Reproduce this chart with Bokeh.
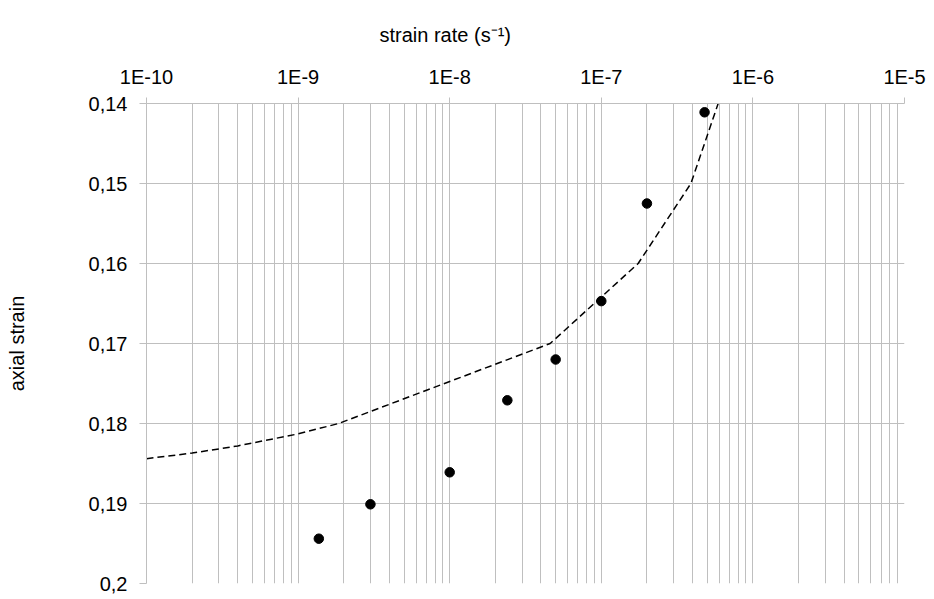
from bokeh.plotting import figure
from bokeh.models import Range1d, FixedTicker, CustomJSTickFormatter
from bokeh.embed import file_html
from bokeh.resources import INLINE

# ---- data ----
x_tick_values = [1e-10, 1e-9, 1e-8, 1e-7, 1e-6, 1e-5]
x_tick_labels = ["1E-10", "1E-9", "1E-8", "1E-7", "1E-6", "1E-5"]
y_tick_values = [0.14, 0.15, 0.16, 0.17, 0.18, 0.19, 0.2]
y_tick_labels = ["0,14", "0,15", "0,16", "0,17", "0,18", "0,19", "0,2"]

curve_rate = [1e-10, 2e-10, 4e-10, 1e-9, 1.85e-9, 4.6e-8, 1.75e-7, 3.9e-7, 5.9e-7]
curve_strain = [0.1844, 0.1837, 0.1828, 0.1813, 0.1800, 0.1700, 0.1600, 0.1500, 0.1400]

point_rate = [1.37e-9, 3.0e-9, 1.0e-8, 2.4e-8, 5.0e-8, 1.0e-7, 2.0e-7, 4.8e-7]
point_strain = [0.1944, 0.1901, 0.1861, 0.1771, 0.1720, 0.1647, 0.1525, 0.1411]

FONT = "Liberation Sans"
GRID = "#bfbfbf"

p = figure(width=926, height=596, x_axis_type="log", x_axis_location="above",
           x_range=Range1d(1e-10, 1e-5), y_range=Range1d(0.2, 0.14),
           output_backend="svg", toolbar_location=None,
           min_border_left=146, min_border_right=22, min_border_top=103, min_border_bottom=13)
p.outline_line_color = None
p.background_fill_color = "white"
p.border_fill_color = "white"

minor = [k * v for v in x_tick_values[:-1] for k in range(2, 10)]
xt = FixedTicker(ticks=x_tick_values, minor_ticks=minor)
yt = FixedTicker(ticks=y_tick_values)
p.xaxis.ticker = xt
p.yaxis.ticker = yt
p.xgrid.ticker = xt
p.ygrid.ticker = yt

p.xaxis.formatter = CustomJSTickFormatter(args=dict(vals=x_tick_values, labs=x_tick_labels), code="""
let best = 0;
for (let i = 0; i < vals.length; i++) {
  if (Math.abs(Math.log10(vals[i]) - Math.log10(tick)) < Math.abs(Math.log10(vals[best]) - Math.log10(tick))) best = i;
}
return labs[best];
""")
p.yaxis.formatter = CustomJSTickFormatter(args=dict(vals=y_tick_values, labs=y_tick_labels), code="""
let best = 0;
for (let i = 0; i < vals.length; i++) {
  if (Math.abs(vals[i] - tick) < Math.abs(vals[best] - tick)) best = i;
}
return labs[best];
""")

for ax in (p.xaxis[0], p.yaxis[0]):
    ax.axis_line_color = GRID
    ax.major_tick_line_color = GRID
    ax.minor_tick_line_color = None
    ax.major_tick_in = 0
    ax.major_label_text_font = FONT
    ax.major_label_text_font_size = "20px"
    ax.major_label_text_color = "black"

p.xaxis.major_tick_out = 6
p.xaxis.major_label_standoff = 10
p.yaxis.major_tick_out = 7
p.yaxis.major_label_standoff = 12

p.yaxis.axis_label = "axial strain"
p.yaxis.axis_label_text_font = FONT
p.yaxis.axis_label_text_font_size = "20px"
p.yaxis.axis_label_text_font_style = "normal"
p.yaxis.axis_label_text_color = "black"
p.yaxis.axis_label_standoff = 58

p.title.text = "strain rate (s\u207b\u00b9)"
p.title.text_font = FONT
p.title.text_font_size = "20px"
p.title.text_font_style = "normal"
p.title.text_color = "black"
p.title.align = "left"
p.title.offset = 233
p.title.standoff = 33

p.xgrid.grid_line_color = GRID
p.xgrid.minor_grid_line_color = GRID
p.ygrid.grid_line_color = GRID

p.line(curve_rate, curve_strain, line_color="black", line_width=1.5, line_dash="7 4")
p.scatter(point_rate, point_strain, size=9.5, color="black")

open("out.html", "w").write(file_html(p, INLINE))
